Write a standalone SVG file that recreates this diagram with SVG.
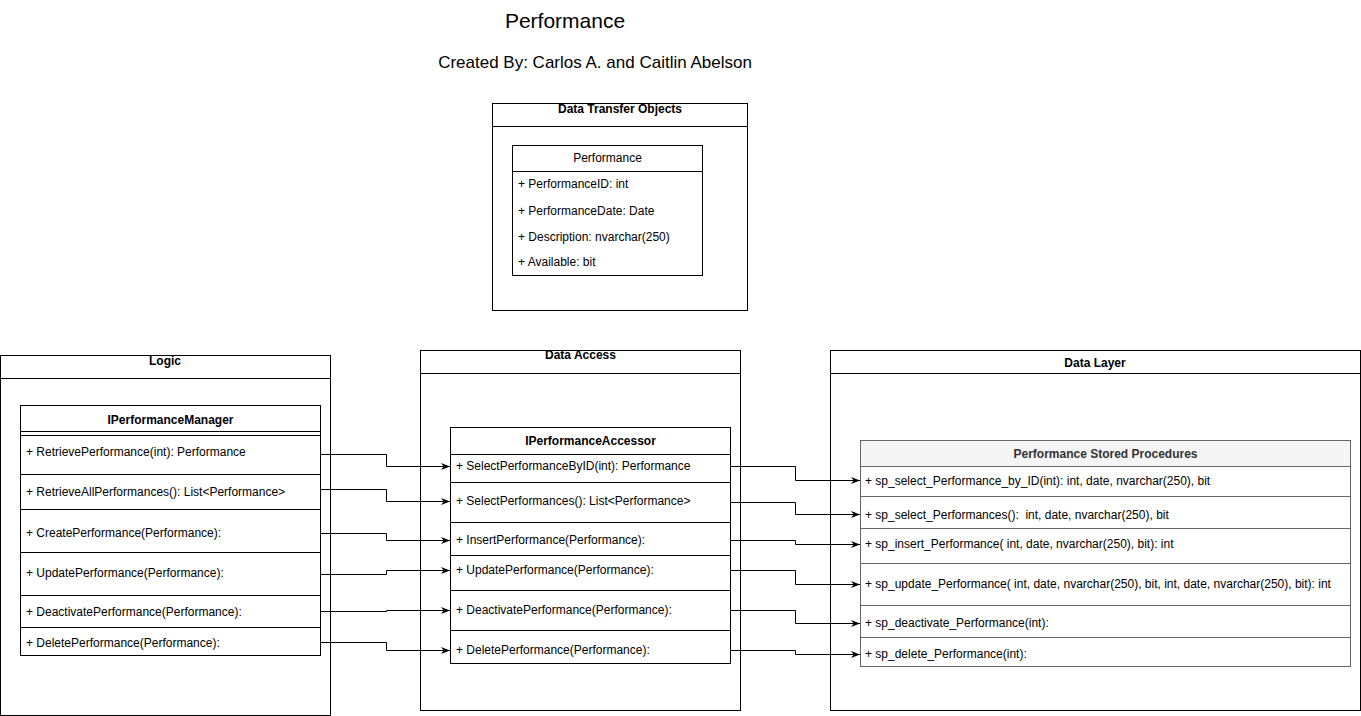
<svg xmlns="http://www.w3.org/2000/svg" width="1361" height="716" viewBox="0 0 1361 716">
<defs>
<style>
text{font-family:"Liberation Sans",Arial,Helvetica,sans-serif;font-size:12px;fill:#000}
.t{font-weight:bold;text-anchor:middle}
.c{text-anchor:middle}
.box{fill:#fff;stroke:#000;stroke-width:1}
.ln{stroke:#000;stroke-width:1;fill:none}
.sp{fill:#fff;stroke:#666;stroke-width:1}
.spl{stroke:#666;stroke-width:1;fill:none}
.edge{stroke:#000;stroke-width:1;fill:none;marker-end:url(#arr)}
</style>
<marker id="arr" viewBox="0 0 10 10" refX="10" refY="5" markerWidth="9" markerHeight="9" markerUnits="userSpaceOnUse" orient="auto">
<path d="M0,1 L10,5 L0,9 L3,5 z" fill="#000"/>
</marker>
</defs>
<rect width="1361" height="716" fill="#fff"/>
<g id="title">
<text x="565" y="28" class="c" style="font-size:21px">Performance</text>
<text x="595" y="68" class="c" style="font-size:17px">Created By: Carlos A. and Caitlin Abelson</text>
</g>
<g id="dto">
<rect class="box" x="492.5" y="103.5" width="255" height="207"/>
<line class="ln" x1="492.5" y1="126.5" x2="747.5" y2="126.5"/>
<text x="620" y="113" class="t">Data Transfer Objects</text>
</g>
<g id="performance-class">
<rect class="box" x="512.5" y="145.5" width="190" height="130"/>
<line class="ln" x1="512.5" y1="171.5" x2="702.5" y2="171.5"/>
<text x="607.5" y="162" class="c">Performance</text>
<text x="518" y="188">+ PerformanceID: int</text>
<text x="518" y="215">+ PerformanceDate: Date</text>
<text x="518" y="241">+ Description: nvarchar(250)</text>
<text x="518" y="266">+ Available: bit</text>
</g>
<g id="logic">
<rect class="box" x="0.5" y="355.5" width="330" height="360"/>
<line class="ln" x1="0.5" y1="378.5" x2="330.5" y2="378.5"/>
<text x="165" y="365" class="t">Logic</text>
</g>
<g id="manager">
<rect class="box" x="20.5" y="405.5" width="300" height="250"/>
<line class="ln" x1="20.5" y1="431.5" x2="320.5" y2="431.5"/>
<line class="ln" x1="20.5" y1="435.5" x2="320.5" y2="435.5"/>
<line class="ln" x1="20.5" y1="474.5" x2="320.5" y2="474.5"/>
<line class="ln" x1="20.5" y1="509.5" x2="320.5" y2="509.5"/>
<line class="ln" x1="20.5" y1="552.5" x2="320.5" y2="552.5"/>
<line class="ln" x1="20.5" y1="595.5" x2="320.5" y2="595.5"/>
<line class="ln" x1="20.5" y1="627.5" x2="320.5" y2="627.5"/>
<text x="170.5" y="424" class="t">IPerformanceManager</text>
<text x="26" y="456">+ RetrievePerformance(int): Performance</text>
<text x="26" y="496">+ RetrieveAllPerformances(): List&lt;Performance&gt;</text>
<text x="26" y="537">+ CreatePerformance(Performance):</text>
<text x="26" y="577">+ UpdatePerformance(Performance):</text>
<text x="26" y="616">+ DeactivatePerformance(Performance):</text>
<text x="26" y="647">+ DeletePerformance(Performance):</text>
</g>
<g id="data-access">
<rect class="box" x="420.5" y="350.5" width="320" height="360"/>
<line class="ln" x1="420.5" y1="373.5" x2="740.5" y2="373.5"/>
<text x="580.5" y="359" class="t">Data Access</text>
</g>
<g id="accessor">
<rect class="box" x="450.5" y="427.5" width="280" height="236"/>
<line class="ln" x1="450.5" y1="454.5" x2="730.5" y2="454.5"/>
<line class="ln" x1="450.5" y1="482.5" x2="730.5" y2="482.5"/>
<line class="ln" x1="450.5" y1="522.5" x2="730.5" y2="522.5"/>
<line class="ln" x1="450.5" y1="555.5" x2="730.5" y2="555.5"/>
<line class="ln" x1="450.5" y1="590.5" x2="730.5" y2="590.5"/>
<line class="ln" x1="450.5" y1="630.5" x2="730.5" y2="630.5"/>
<text x="590.5" y="445" class="t">IPerformanceAccessor</text>
<text x="456" y="470">+ SelectPerformanceByID(int): Performance</text>
<text x="456" y="505">+ SelectPerformances(): List&lt;Performance&gt;</text>
<text x="456" y="544">+ InsertPerformance(Performance):</text>
<text x="456" y="574">+ UpdatePerformance(Performance):</text>
<text x="456" y="614">+ DeactivatePerformance(Performance):</text>
<text x="456" y="654">+ DeletePerformance(Performance):</text>
</g>
<g id="data-layer">
<rect class="box" x="830.5" y="350.5" width="530" height="360"/>
<line class="ln" x1="830.5" y1="373.5" x2="1360.5" y2="373.5"/>
<text x="1095" y="367" class="t">Data Layer</text>
</g>
<g id="stored-procedures">
<rect class="sp" x="860.5" y="440.5" width="490" height="226"/>
<rect x="861" y="441" width="489" height="25" fill="#f5f5f5"/>
<line class="spl" x1="860.5" y1="466.5" x2="1350.5" y2="466.5"/>
<line class="spl" x1="860.5" y1="496.5" x2="1350.5" y2="496.5"/>
<line class="spl" x1="860.5" y1="528.5" x2="1350.5" y2="528.5"/>
<line class="spl" x1="860.5" y1="563.5" x2="1350.5" y2="563.5"/>
<line class="spl" x1="860.5" y1="605.5" x2="1350.5" y2="605.5"/>
<line class="spl" x1="860.5" y1="637.5" x2="1350.5" y2="637.5"/>
<text x="1105.5" y="458" class="t" style="fill:#333">Performance Stored Procedures</text>
<text x="865" y="485">+ sp_select_Performance_by_ID(int): int, date, nvarchar(250), bit</text>
<text x="865" y="519" xml:space="preserve">+ sp_select_Performances():  int, date, nvarchar(250), bit</text>
<text x="865" y="548">+ sp_insert_Performance( int, date, nvarchar(250), bit): int</text>
<text x="865" y="588">+ sp_update_Performance( int, date, nvarchar(250), bit, int, date, nvarchar(250), bit): int</text>
<text x="865" y="627">+ sp_deactivate_Performance(int):</text>
<text x="865" y="658">+ sp_delete_Performance(int):</text>
</g>
<g id="connectors">
<path class="edge" d="M320.5,454.5 H386.5 V466.5 H450"/>
<path class="edge" d="M320.5,489.5 H386.5 V501.5 H450"/>
<path class="edge" d="M320.5,533.5 H386.5 V540.5 H450"/>
<path class="edge" d="M320.5,574.5 H386.5 V570.5 H450"/>
<path class="edge" d="M320.5,611.5 H386.5 V610.5 H450"/>
<path class="edge" d="M320.5,642.5 H386.5 V650.5 H450"/>
<path class="edge" d="M730.5,466.5 H795.5 V480.5 H860"/>
<path class="edge" d="M730.5,502.5 H795.5 V514.5 H860"/>
<path class="edge" d="M730.5,540.5 H795.5 V544.5 H860"/>
<path class="edge" d="M730.5,570.5 H795.5 V584.5 H860"/>
<path class="edge" d="M730.5,610.5 H795.5 V623.5 H860"/>
<path class="edge" d="M730.5,650.5 H795.5 V654.5 H860"/>
</g>
</svg>
